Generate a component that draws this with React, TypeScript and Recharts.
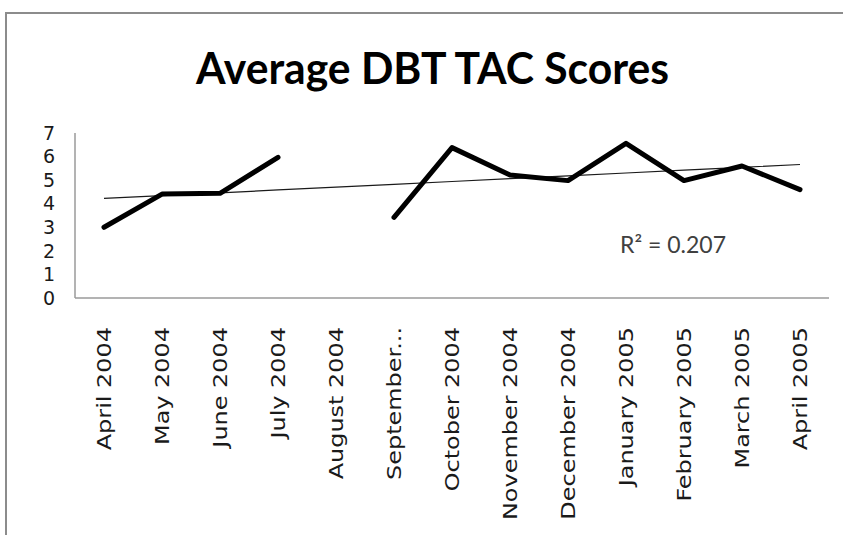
import { LineChart, Line, XAxis, YAxis, Customized } from "recharts";

const months = [
  "April 2004",
  "May 2004",
  "June 2004",
  "July 2004",
  "August 2004",
  "September 2004",
  "October 2004",
  "November 2004",
  "December 2004",
  "January 2005",
  "February 2005",
  "March 2005",
  "April 2005",
];

// what the axis actually shows (Excel cut September short)
const tickLabels = [
  "April 2004",
  "May 2004",
  "June 2004",
  "July 2004",
  "August 2004",
  "September...",
  "October 2004",
  "November 2004",
  "December 2004",
  "January 2005",
  "February 2005",
  "March 2005",
  "April 2005",
];

// August 2004 has no score
const scores: (number | null)[] = [3.0, 4.41, 4.44, 5.97, null, 3.42, 6.38, 5.22, 4.98, 6.56, 4.98, 5.6, 4.6];

const yTicks = [0, 1, 2, 3, 4, 5, 6, 7];

const titleText = "Average DBT TAC Scores";
const r2Text = "R² = 0.207";

// linear trendline, x = 1..n like Excel, skipping the empty month
function linearTrend(values: (number | null)[]): number[] {
  const pts = values
    .map((v, i) => (v == null ? null : [i + 1, v]))
    .filter((p): p is number[] => p !== null);
  const n = pts.length;
  const mx = pts.reduce((s, p) => s + p[0], 0) / n;
  const my = pts.reduce((s, p) => s + p[1], 0) / n;
  let sxy = 0;
  let sxx = 0;
  pts.forEach(([x, y]) => {
    sxy += (x - mx) * (y - my);
    sxx += (x - mx) * (x - mx);
  });
  const slope = sxy / sxx;
  const icpt = my - slope * mx;
  return values.map((_, i) => icpt + slope * (i + 1));
}

const trend = linearTrend(scores);

const data = months.map((m, i) => ({ month: m, score: scores[i], trend: trend[i] }));

const FONT = "'DejaVu Sans', sans-serif";

function MonthTick(props: any) {
  const { x, y, index } = props;
  return (
    <text
      transform={`translate(${x},${y + 29}) rotate(-90) scale(1.26,1)`}
      textAnchor="end"
      dy="0.36em"
      fontFamily={FONT}
      fontSize={19}
      fill="#1a1a1a"
    >
      {tickLabels[index]}
    </text>
  );
}

function Annotations() {
  return (
    <g>
      <text
        x={196}
        y={84}
        textLength={473}
        lengthAdjust="spacingAndGlyphs"
        fontFamily="Lato, 'Open Sans', sans-serif"
        fontWeight="bold"
        fontSize={44}
        fill="#000"
      >
        {titleText}
      </text>
      <text x={620} y={253} fontFamily="Lato, 'Open Sans', sans-serif" fontSize={23} fill="#404040">
        {r2Text}
      </text>
    </g>
  );
}

export default function App() {
  return (
    <div style={{ position: "absolute", left: 0, top: 0, width: 843, height: 535, background: "#fff", overflow: "hidden" }}>
      <div
        style={{
          position: "absolute",
          left: 5,
          top: 12,
          width: 838,
          height: 523,
          borderLeft: "2px solid #8c8c8c",
          borderTop: "2px solid #8c8c8c",
          boxSizing: "border-box",
        }}
      />
      <div style={{ position: "absolute", left: 0, top: 0 }}>
        <LineChart width={843} height={535} data={data} margin={{ top: 133, right: 14, left: 0, bottom: 0 }}>
          <XAxis
            dataKey="month"
            interval={0}
            height={237}
            tickLine={false}
            tickSize={0}
            tickMargin={0}
            axisLine={{ stroke: "#9a9a9a", strokeWidth: 1.5 }}
            padding={{ left: 29, right: 29 }}
            tick={<MonthTick />}
          />
          <YAxis
            width={75}
            domain={[0, 7]}
            ticks={yTicks}
            interval={0}
            tickLine={false}
            tickSize={0}
            tickMargin={20}
            axisLine={{ stroke: "#9a9a9a", strokeWidth: 1.5 }}
            tick={{ fontFamily: FONT, fontSize: 19, fill: "#1a1a1a" }}
          />
          <Line
            dataKey="trend"
            stroke="#1a1a1a"
            strokeWidth={1.2}
            dot={false}
            activeDot={false}
            isAnimationActive={false}
          />
          <Line
            dataKey="score"
            stroke="#000"
            strokeWidth={5}
            strokeLinejoin="round"
            strokeLinecap="round"
            dot={false}
            activeDot={false}
            connectNulls={false}
            isAnimationActive={false}
          />
          <Customized component={Annotations} />
        </LineChart>
      </div>
    </div>
  );
}
